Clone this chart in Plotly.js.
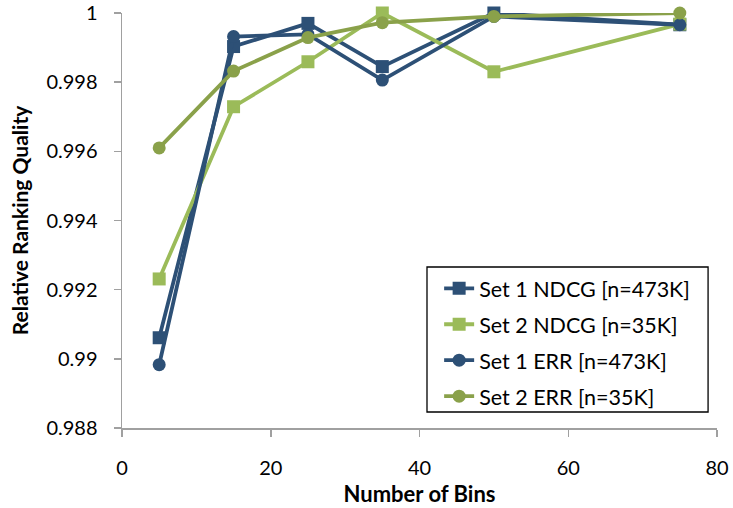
<!DOCTYPE html>
<html><head><meta charset="utf-8">
<script src="https://cdn.plot.ly/plotly-3.0.1.min.js"></script>
<style>html,body{margin:0;padding:0;background:#fff}#chart{width:733px;height:508px}</style>
</head><body><div id="chart"></div>
<script>
const bins = [5, 15, 25, 35, 50, 75];
const set1NDCG = [0.99061, 0.99903, 0.99970, 0.99845, 1.00000, 0.99966];
const set2NDCG = [0.99231, 0.99729, 0.99859, 1.00000, 0.99830, 0.99968];
const set1ERR  = [0.98983, 0.99932, 0.99938, 0.99806, 0.99990, 0.99966];
const set2ERR  = [0.99610, 0.99832, 0.99929, 0.99972, 0.99990, 1.00000];
const names = ['Set 1 NDCG [n=473K]', 'Set 2 NDCG [n=35K]', 'Set 1 ERR [n=473K]', 'Set 2 ERR [n=35K]'];
const yTicks = [0.988, 0.99, 0.992, 0.994, 0.996, 0.998, 1];
const xTicks = [0, 20, 40, 60, 80];

const series = [set1NDCG, set2NDCG, set1ERR, set2ERR];
const colors = ['#2D5076', '#9BBB59', '#2D5076', '#8AA14A'];
const symbols = ['square', 'square', 'circle', 'circle'];

const traces = series.map((s, i) => ({
  x: bins, y: s, name: names[i], type: 'scatter', mode: 'lines+markers',
  line: {color: colors[i], width: 3.8},
  marker: {color: colors[i], symbol: symbols[i], size: 13},
  cliponaxis: false, legendgroup: 'g' + i
}));

const font = 'Lato, "Liberation Sans", sans-serif';
const layout = {
  width: 733, height: 508,
  margin: {l: 122, r: 16, t: 13, b: 80},
  paper_bgcolor: '#fff', plot_bgcolor: '#fff',
  font: {family: font, size: 20, color: '#000'},
  showlegend: true,
  legend: {
    x: 0.533, y: 0.386, xanchor: 'left', yanchor: 'top',
    borderwidth: 0, bgcolor: 'rgba(0,0,0,0)',
    font: {family: font, size: 21.5, color: '#000'},
    traceorder: 'grouped', tracegroupgap: 5
  },
  shapes: [{
    type: 'rect', xref: 'paper', yref: 'paper',
    x0: 0.5126, x1: 0.985, y0: 0.0386, y1: 0.388,
    line: {color: '#000', width: 1.3}, fillcolor: 'rgba(0,0,0,0)', layer: 'above'
  }],
  xaxis: {
    range: [0, 80], tickvals: xTicks, ticktext: xTicks.map(String),
    showgrid: false, zeroline: false, showline: true, linecolor: '#A0A0A0', linewidth: 1.5,
    ticks: 'outside', ticklen: 7, tickcolor: '#A0A0A0', tickwidth: 1.5,
    tickfont: {size: 20, family: font}, ticklabelstandoff: 14,
    title: {text: '<b>Number of Bins</b>', font: {size: 22, family: font}, standoff: 9}
  },
  yaxis: {
    range: [0.988, 1], tickvals: yTicks, ticktext: yTicks.map(String),
    showgrid: false, zeroline: false, showline: true, linecolor: '#A0A0A0', linewidth: 1.5,
    ticks: 'outside', ticklen: 7, tickcolor: '#A0A0A0', tickwidth: 1.5,
    tickfont: {size: 20, family: font}, ticklabelstandoff: 12,
    title: {text: '<b>Relative Ranking Quality</b>', font: {size: 21, family: font}, standoff: 12}
  }
};
Plotly.newPlot('chart', traces, layout, {displayModeBar: false, staticPlot: true});
</script></body></html>
